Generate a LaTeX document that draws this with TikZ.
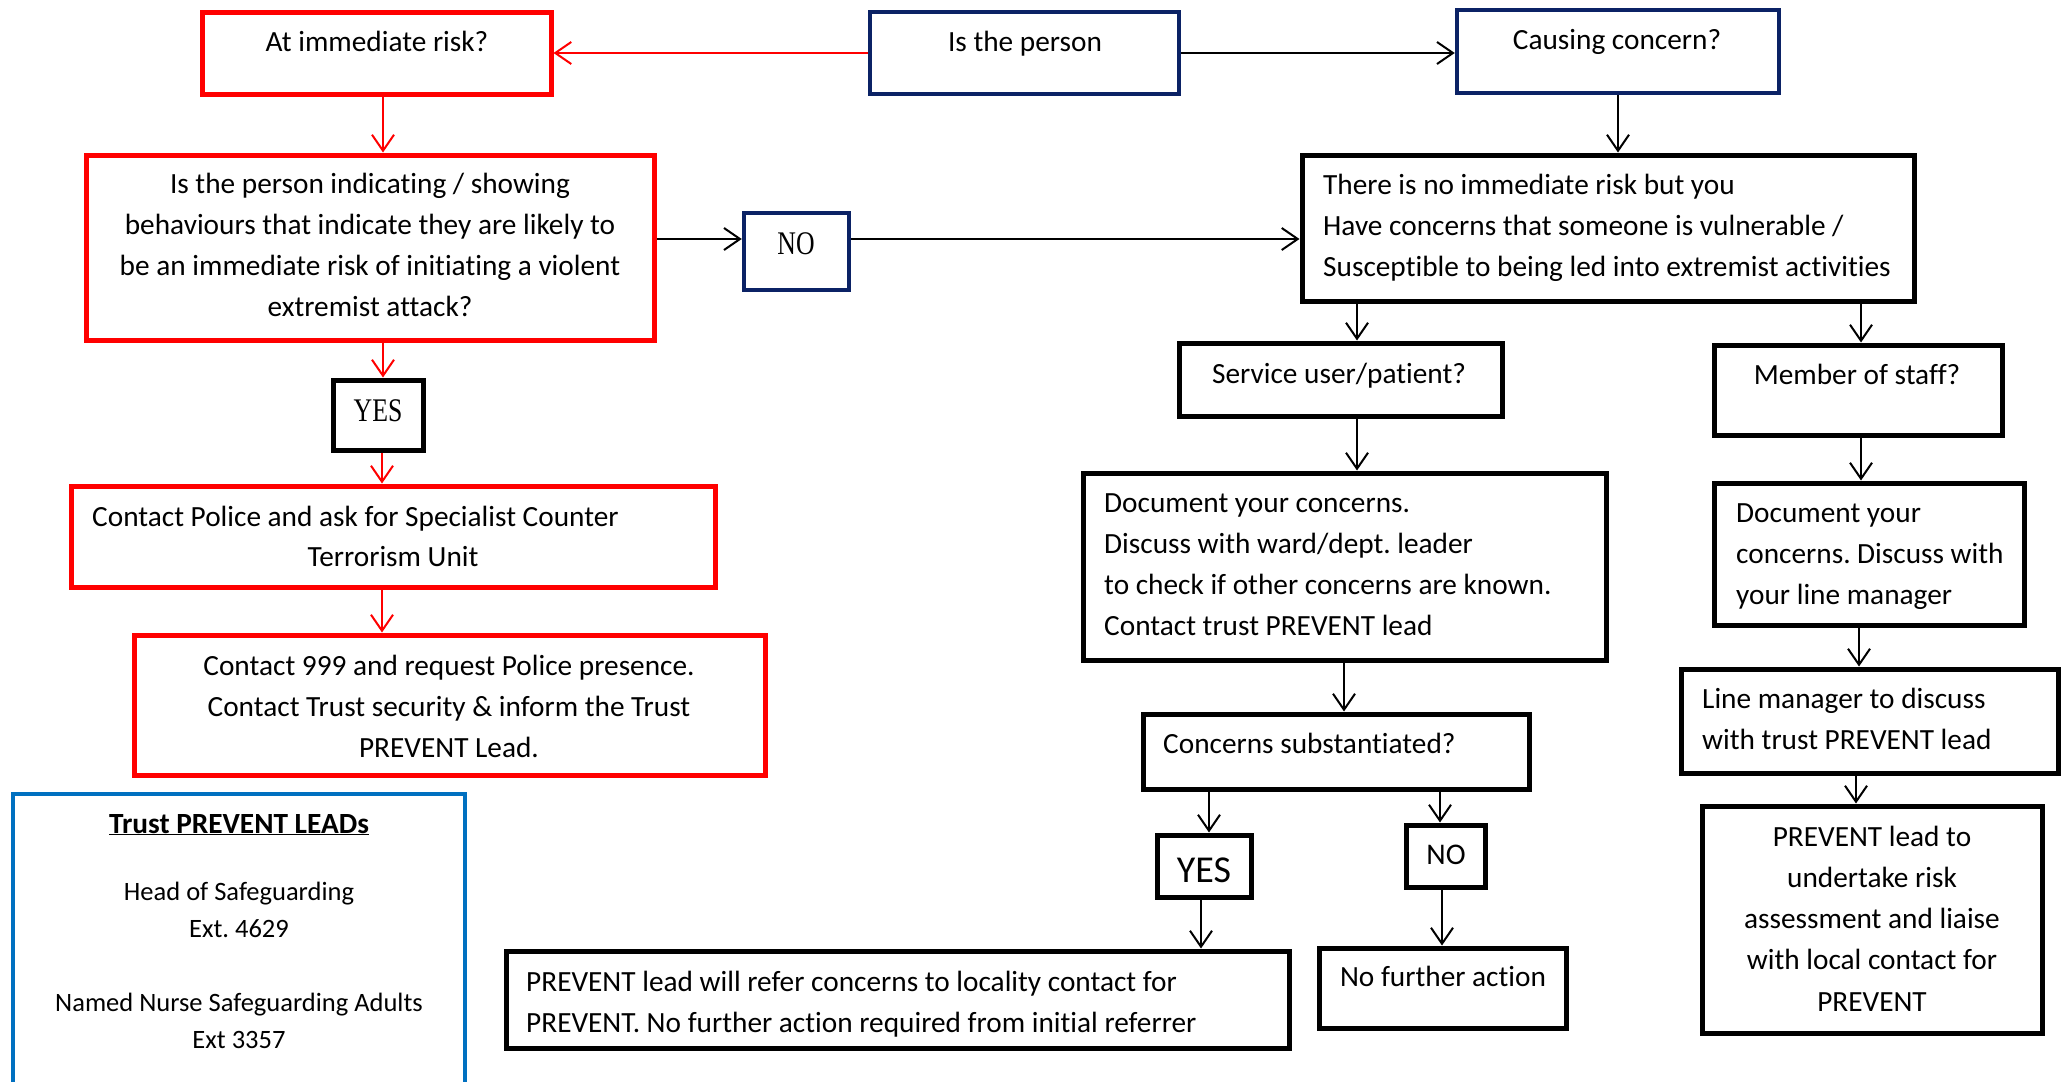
\documentclass[tikz,border=0pt]{standalone}
\usepackage{fontspec}
\setmainfont{Carlito}[Ligatures=NoCommon]
\newfontfamily\serifyn[FakeStretch=0.78]{Liberation Serif}
\usetikzlibrary{arrows.meta}
\definecolor{wred}{HTML}{FF0000}
\definecolor{wnavy}{HTML}{0B2265}
\definecolor{wblue}{HTML}{0070C0}
\newcommand{\boxnode}[6]{\node[#1, minimum width={#4-#3-4}, minimum height={#6-#5-4}] (#2) at ({(#3+#4)/2},{(#5+#6)/2}) {};}
\newcommand{\natsp}{\spaceskip=0pt\xspaceskip=0pt\relax}
\frenchspacing
\begin{document}
\begin{tikzpicture}[x=1pt,y=-1pt,
  redbox/.style={draw=wred, line width=5pt, rectangle, inner sep=0pt, fill=white},
  navybox/.style={draw=wnavy, line width=4.5pt, rectangle, inner sep=0pt, fill=white},
  blackbox/.style={draw=black, line width=5pt, rectangle, inner sep=0pt, fill=white},
  txt/.style={font=\frenchspacing\fontsize{29.3}{41.3}\selectfont, inner sep=0pt},
  smalltxt/.style={font=\frenchspacing\fontsize{26.5}{37.5}\selectfont, inner sep=0pt},
  yn/.style={font=\serifyn\fontsize{33}{40}\selectfont, inner sep=0pt},
  conn/.style={line width=2pt, -{Straight Barb[length=16pt,width=22pt]}},
  rconn/.style={conn, draw=wred},
  bconn/.style={conn, draw=black}]
\useasboundingbox[fill=white] (0,0) rectangle (2065,1082);
% boxes
\boxnode{redbox}{A}{200}{553}{10}{96}
\boxnode{navybox}{B}{868}{1181}{10}{96}
\boxnode{navybox}{C}{1455}{1781}{8}{95}
\boxnode{redbox}{D}{84}{656}{153}{342}
\boxnode{navybox}{E}{742}{851}{211}{292}
\boxnode{blackbox}{F}{1300}{1916}{153}{303}
\boxnode{blackbox}{G}{1177}{1504}{341}{418}
\boxnode{blackbox}{H}{1712}{2004}{343}{437}
\boxnode{blackbox}{I}{331}{425}{378}{452}
\boxnode{redbox}{J}{69}{717}{484}{589}
\boxnode{redbox}{K}{132}{767}{633}{777}
\boxnode{blackbox}{M}{1081}{1608}{471}{662}
\boxnode{blackbox}{N}{1712}{2026}{481}{627}
\boxnode{blackbox}{O}{1679}{2060}{667}{775}
\boxnode{blackbox}{P}{1141}{1531}{712}{791}
\boxnode{blackbox}{Q}{1155}{1253}{833}{899}
\boxnode{blackbox}{R}{1404}{1487}{823}{889}
\boxnode{blackbox}{S}{504}{1291}{949}{1050}
\boxnode{blackbox}{T}{1317}{1568}{946}{1030}
\boxnode{blackbox}{U}{1700}{2044}{804}{1035}
% leads frame (bottom edge lies below the picture)
\draw[draw=wblue, line width=4pt] (13,1082) -- (13,794) -- (465,794) -- (465,1082);
% texts
\node[txt, anchor=base] (tA) at (377,51) {At immediate risk?};
\node[txt, anchor=base] (tB) at (1025,51) {Is the person};
\node[txt, anchor=base] (tC) at (1617,49) {Causing concern?};
\node[txt, anchor=base, text width=540pt, align=flush center] (tD) at (370,193) {\natsp Is the person indicating / showing\\behaviours that indicate they are likely to\\be an immediate risk of initiating a violent\\extremist attack?};
\node[yn, anchor=base] (tE) at (796,254) {NO};
\node[txt, anchor=base west, text width=590pt, align=flush left] (tF) at (1323,194) {\natsp There is no immediate risk but you\\Have concerns that someone is vulnerable /\\Susceptible to being led into extremist activities};
\node[txt, anchor=base] (tG) at (1339,383) {Service user/patient?};
\node[txt, anchor=base] (tH) at (1857,384) {Member of staff?};
\node[yn, anchor=base] (tI) at (378,421) {YES};
\node[txt, anchor=base west] (tJa) at (92,526) {Contact Police and ask for Specialist Counter};
\node[txt, anchor=base] (tJb) at (393,566) {Terrorism Unit};
\node[txt, anchor=base, text width=600pt, align=flush center] (tK) at (449,675) {\natsp Contact 999 and request Police presence.\\Contact Trust security \& inform the Trust\\PREVENT Lead.};
\node[txt, anchor=base] (tL1) at (239,833) {\underline{\textbf{Trust PREVENT LEADs}}};
\node[smalltxt, anchor=base, text width=420pt, align=flush center] (tL2) at (239,900) {\natsp Head of Safeguarding\\Ext. 4629};
\node[smalltxt, anchor=base, text width=420pt, align=flush center] (tL3) at (239,1011) {\natsp Named Nurse Safeguarding Adults\\Ext 3357};
\node[txt, anchor=base west, text width=490pt, align=flush left] (tM) at (1104,512) {\natsp Document your concerns.\\Discuss with ward/dept. leader\\to check if other concerns are known.\\Contact trust PREVENT lead};
\node[txt, anchor=base west, text width=286pt, align=flush left] (tN) at (1736,522) {\natsp Document your\\concerns. Discuss with\\your line manager};
\node[txt, anchor=base west, text width=340pt, align=flush left] (tO) at (1702,708) {\natsp Line manager to discuss\\with trust PREVENT lead};
\node[txt, anchor=base west] (tP) at (1163,753.5) {Concerns substantiated?};
\node[font=\fontsize{38}{44}\selectfont, inner sep=0pt, anchor=base] (tQ) at (1204,882) {YES};
\node[font=\fontsize{30}{40}\selectfont, inner sep=0pt, anchor=base] (tR) at (1446,864.5) {NO};
\node[txt, anchor=base west, text width=750pt, align=flush left] (tS) at (526,991) {\natsp PREVENT lead will refer concerns to locality contact for\\PREVENT. No further action required from initial referrer};
\node[txt, anchor=base] (tT) at (1443,986) {No further action};
\node[txt, anchor=base, text width=320pt, align=flush center] (tU) at (1872,846) {\natsp PREVENT lead to\\undertake risk\\assessment and liaise\\with local contact for\\PREVENT};
% connectors
\draw[rconn] (B.west) -- (A.east |- B.west);
\draw[bconn] (B.east) -- (C.west |- B.east);
\draw[rconn] (A.south -| 383,0) -- (D.north -| 383,0);
\draw[rconn] (D.south -| 383,0) -- (I.north -| 383,0);
\draw[rconn] (I.south -| 382,0) -- (J.north -| 382,0);
\draw[rconn] (J.south -| 382,0) -- (K.north -| 382,0);
\draw[bconn] (D.east |- 0,239) -- (E.west |- 0,239);
\draw[bconn] (E.east |- 0,239) -- (F.west |- 0,239);
\draw[bconn] (C.south -| 1618,0) -- (F.north -| 1618,0);
\draw[bconn] (F.south -| 1357,0) -- (G.north -| 1357,0);
\draw[bconn] (F.south -| 1861,0) -- (H.north -| 1861,0);
\draw[bconn] (G.south -| 1357,0) -- (M.north -| 1357,0);
\draw[bconn] (H.south -| 1861,0) -- (N.north -| 1861,0);
\draw[bconn] (N.south -| 1859,0) -- (O.north -| 1859,0);
\draw[bconn] (O.south -| 1856,0) -- (U.north -| 1856,0);
\draw[bconn] (M.south -| 1344,0) -- (P.north -| 1344,0);
\draw[bconn] (P.south -| 1209,0) -- (Q.north -| 1209,0);
\draw[bconn] (P.south -| 1440,0) -- (R.north -| 1440,0);
\draw[bconn] (Q.south -| 1201,0) -- (S.north -| 1201,0);
\draw[bconn] (R.south -| 1442,0) -- (T.north -| 1442,0);
\end{tikzpicture}
\end{document}
